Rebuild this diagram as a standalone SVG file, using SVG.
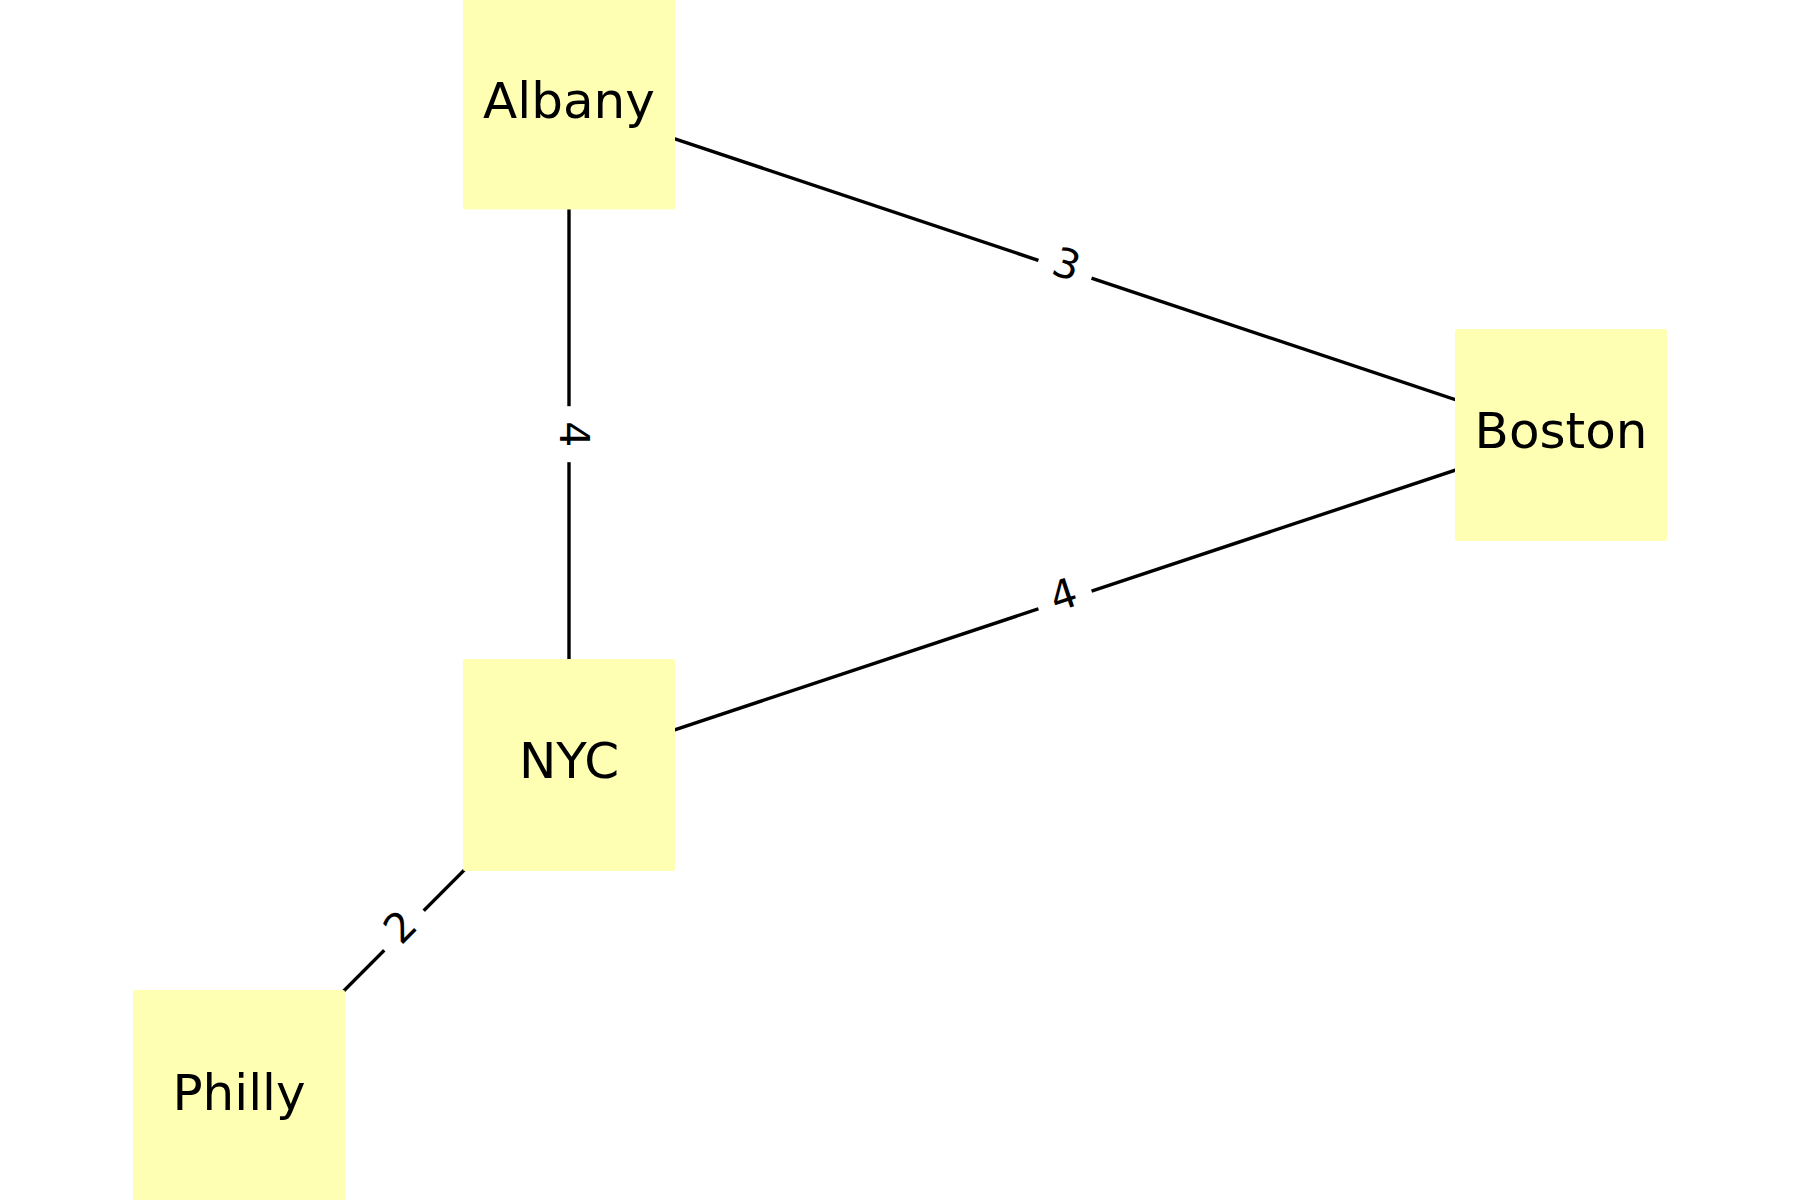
<svg xmlns="http://www.w3.org/2000/svg" width="1800" height="1200" viewBox="0 0 1800 1200">
<style>
.edge{stroke:#000;stroke-width:3.4;fill:none}
.box{fill:#ffffb3}
.nl{font-family:"DejaVu Sans",sans-serif;font-size:50px;fill:#000;text-anchor:middle}
.el{font-family:"DejaVu Sans",sans-serif;font-size:41px;fill:#000;text-anchor:middle}
.lbg{fill:#fff}
</style>
<rect width="1800" height="1200" fill="#fff"/>
<g id="connectors">
<line class="edge" x1="569" y1="103.5" x2="1561" y2="435"/>
<line class="edge" x1="569" y1="103.5" x2="569" y2="765"/>
<line class="edge" x1="569" y1="765" x2="1561" y2="435"/>
<line class="edge" x1="239" y1="1096" x2="569" y2="765"/>
</g>
<g id="edge-labels">
<g transform="translate(1065,269.3) rotate(18.48)"><rect class="lbg" x="-28" y="-22" width="56" height="44"/><text class="el" x="0" y="8.8">3</text></g>
<g transform="translate(569,434.2) rotate(90)"><rect class="lbg" x="-28" y="-22" width="56" height="44"/><text class="el" x="0" y="8.8">4</text></g>
<g transform="translate(1065,600) rotate(-18.4)"><rect class="lbg" x="-28" y="-22" width="56" height="44"/><text class="el" x="0" y="8.8">4</text></g>
<g transform="translate(404,930.5) rotate(-45.1)"><rect class="lbg" x="-28" y="-22" width="56" height="44"/><text class="el" x="0" y="8.8">2</text></g>
</g>
<g id="node-albany"><rect class="box" x="463" y="-2.5" width="212" height="212" rx="2"/><text class="nl" x="569" y="118.3">Albany</text></g>
<g id="node-boston"><rect class="box" x="1455" y="329" width="212" height="212" rx="2"/><text class="nl" x="1561" y="448.3">Boston</text></g>
<g id="node-nyc"><rect class="box" x="463" y="659" width="212" height="212" rx="2"/><text class="nl" x="569" y="778.3">NYC</text></g>
<g id="node-philly"><rect class="box" x="133" y="990" width="212" height="212" rx="2"/><text class="nl" x="239" y="1110">Philly</text></g>
</svg>
